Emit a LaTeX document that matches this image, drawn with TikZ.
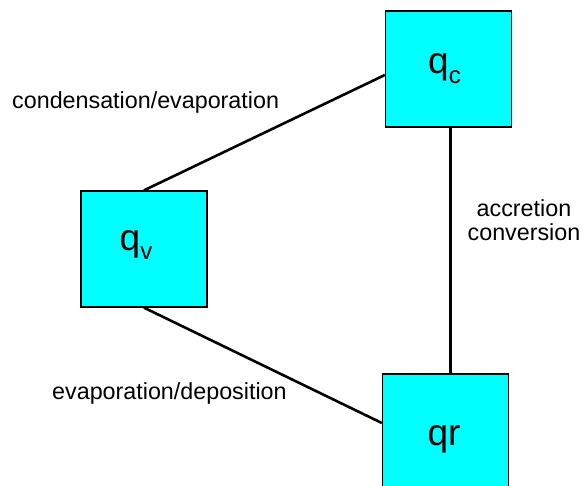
\documentclass[tikz,border=0pt]{standalone}
\usepackage{fontspec}
\setmainfont{Liberation Sans}
\definecolor{boxcyan}{RGB}{0,255,255}
\begin{document}
\begin{tikzpicture}[x=1pt,y=-1pt,
  species/.style={draw=black, line width=1.3pt, fill=boxcyan,
    minimum width=126pt, minimum height=116pt, inner sep=0pt},
  qname/.style={inner sep=0pt, anchor=base, font=\fontsize{37}{37}\selectfont},
  process/.style={inner sep=0pt, font=\fontsize{23.3}{23.3}\selectfont},
  link/.style={draw=black, line width=2.6pt}
]
\clip (0,0) rectangle (584,485);

% the three water species
\node[species] (qc) at (448.5,69) {};
\node[species] (qv) at (144,249) {};
\node[species] (qr) at (445.5,432) {};

% exchanges between them
\draw[link] (qv.north) -- ([yshift=-6pt]qc.west);
\draw[link] (qv.south) -- ([yshift=9pt]qr.west);
\draw[link] ([xshift=2pt]qc.south) -- ([xshift=5pt]qr.north);

% redraw the boxes on top of the line ends
\node[species] at (qc) {};
\node[species] at (qv) {};
\node[species] at (qr) {};

% species names
\node[qname] (qclab) at (444.5,73.3) {q\raisebox{-10pt}{\fontsize{24}{24}\selectfont c}};
\node[qname] (qvlab) at (136,250.7) {q\raisebox{-8.5pt}{\fontsize{24}{24}\selectfont v}};
\node[qname] (qrlab) at (444,445) {qr};

% process names
\node[process, anchor=base west] (cond) at (12,108) {condensation/evaporation};
\node[process, anchor=base west] (evap) at (52,399) {evaporation/deposition};
\node[process, anchor=base, align=center] (accr) at (524,240) {accretion\\conversion};
\end{tikzpicture}
\end{document}
